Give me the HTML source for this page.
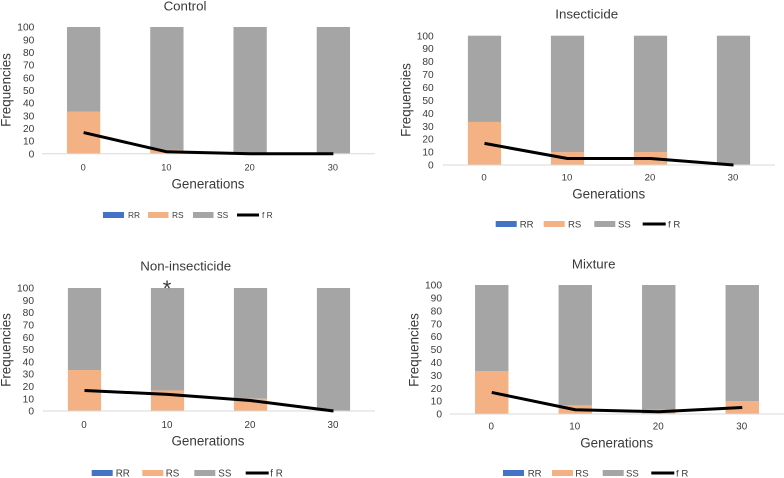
<!DOCTYPE html>
<html lang="en">
<head>
<meta charset="utf-8">
<title>Allele frequencies by generation</title>
<style>
html,body{margin:0;padding:0;background:#fff;width:784px;height:478px;overflow:hidden}
svg{display:block;filter:blur(0.35px)}
text{font-family:"Liberation Sans",sans-serif;fill:#3a3a3a}
</style>
</head>
<body>
<svg id="chart" xmlns="http://www.w3.org/2000/svg" width="784" height="478" viewBox="0 0 784 478"></svg>
<script>
const categories = ["0", "10", "20", "30"];
const yTickLabels = [0, 10, 20, 30, 40, 50, 60, 70, 80, 90, 100];
const panelTitles = ["Control", "Insecticide", "Non-insecticide", "Mixture"];
const seriesNames = ["RR", "RS", "SS", "f R"];

const rrControl = [0, 0, 0, 0];
const rsControl = [33.3, 3, 0, 0];
const ssControl = [66.7, 97, 100, 100];
const frControl = [16.7, 1.5, 0, 0];

const rrInsecticide = [0, 0, 0, 0];
const rsInsecticide = [33.3, 10, 10, 0];
const ssInsecticide = [66.7, 90, 90, 100];
const frInsecticide = [16.7, 5, 5, 0];

const rrNonInsecticide = [0, 0, 0, 0];
const rsNonInsecticide = [33.3, 16.7, 10, 0];
const ssNonInsecticide = [66.7, 83.3, 90, 100];
const frNonInsecticide = [16.7, 13.5, 8.5, 0];

const rrMixture = [0, 0, 0, 0];
const rsMixture = [33.3, 6.7, 3.3, 10];
const ssMixture = [66.7, 93.3, 96.7, 90];
const frMixture = [16.7, 3.3, 1.7, 5];

const panelValues = [
  {rr: rrControl, rs: rsControl, ss: ssControl, fr: frControl},
  {rr: rrInsecticide, rs: rsInsecticide, ss: ssInsecticide, fr: frInsecticide},
  {rr: rrNonInsecticide, rs: rsNonInsecticide, ss: ssNonInsecticide, fr: frNonInsecticide},
  {rr: rrMixture, rs: rsMixture, ss: ssMixture, fr: frMixture}
];

const layouts = [
  {x0:42, x1:375, top:27, base:153.7, titleX:185, titleY:6, genX:208, genY:184, xLabY:167, yTitleX:6, yTitleY:90, tickR:34.3, xFs:9.2,
   legY:215, legFs:8.4, sw:[103,148,193,237], swW:[21,20.5,20.5,22], legTx:[128,172,217,262]},
  {x0:443, x1:775, top:35.7, base:165, titleX:586.7, titleY:14, genX:608.7, genY:193.7, xLabY:177, yTitleX:406, yTitleY:100, tickR:433.7, xFs:9.6,
   legY:224, legFs:9.6, sw:[495.7,543.7,594.3,642.7], swW:[21,21,21,23], legTx:[519.7,568,618,668]},
  {x0:43, x1:375, top:288, base:411, titleX:185.7, titleY:266, genX:208, genY:441, xLabY:424.7, yTitleX:6, yTitleY:350, tickR:34, xFs:9.8,
   legY:473, legFs:9.8, sw:[91.7,142.3,194.3,245.7], swW:[21,21,21,23], legTx:[115.7,165.7,218.3,270.3]},
  {x0:450, x1:784, top:285, base:414, titleX:593.7, titleY:264, genX:616.7, genY:443, xLabY:426, yTitleX:413.7, yTitleY:350, tickR:442, xFs:9.8,
   legY:473, legFs:9.6, sw:[503,552,602.7,651.3], swW:[21,21,21,23], legTx:[527.7,575.3,626,676]}
];

const svgNS = "http://www.w3.org/2000/svg";
const root = document.getElementById("chart");
const colors = {rr: "#4472c4", rs: "#f4b183", ss: "#a5a5a5", fr: "#000000"};

function mk(tag, attrs, parent) {
  const el = document.createElementNS(svgNS, tag);
  for (const k in attrs) el.setAttribute(k, attrs[k]);
  parent.appendChild(el);
  return el;
}
function label(parent, str, attrs) {
  const t = mk("text", attrs, parent);
  t.textContent = str;
  return t;
}

panelValues.forEach(function (vals, p) {
  const L = layouts[p];
  const slug = panelTitles[p].toLowerCase();
  const g = mk("g", {}, root);
  
  

  const band = (L.x1 - L.x0) / categories.length;
  const xCenter = function (i) { return L.x0 + (i + 0.5) * band; };
  const yMax = yTickLabels[yTickLabels.length - 1];
  const yScale = function (v) { return L.base - (v / yMax) * (L.base - L.top); };
  const barW = band * 0.4;

  const title = label(g, panelTitles[p], {x: L.titleX, y: L.titleY + 4.6, "text-anchor": "middle", "font-size": 13.3});
  
  

  yTickLabels.forEach(function (v) {
    const t = label(g, String(v), {x: L.tickR, y: yScale(v) + 3.6, "text-anchor": "end", "font-size": 10.2});
    
    
  });

  categories.forEach(function (c, i) {
    const cx = xCenter(i);
    let running = 0;
    ["rr", "rs", "ss"].forEach(function (key) {
      const v = vals[key][i];
      if (v > 0) {
        const r = mk("rect", {
          x: cx - barW / 2,
          y: yScale(running + v),
          width: barW,
          height: yScale(running) - yScale(running + v),
          fill: colors[key]
        }, g);
        
        
      }
      running += v;
    });
    const t = label(g, c, {x: cx - 0.5, y: L.xLabY + 3.4, "text-anchor": "middle", "font-size": L.xFs});
    
    
  });

  const axis = mk("line", {x1: L.x0, x2: L.x1, y1: L.base, y2: L.base, stroke: "#d9d9d9", "stroke-width": 1}, g);
  
  

  const pts = vals.fr.map(function (v, i) { return xCenter(i) + "," + yScale(v); }).join(" ");
  const line = mk("polyline", {points: pts, fill: "none", stroke: colors.fr, "stroke-width": 3, "stroke-linejoin": "round"}, g);
  
  

  const xt = label(g, "Generations", {x: L.genX, y: L.genY + 4.6, "text-anchor": "middle", "font-size": 13.4});
  
  

  const yt = label(g, "Frequencies", {
    x: 0, y: 0, "text-anchor": "middle", "font-size": 13.4,
    transform: "translate(" + (L.yTitleX + 4.6) + "," + L.yTitleY + ") rotate(-90)"
  });
  
  

  seriesNames.forEach(function (name, i) {
    const isLine = i === 3;
    const key = ["rr", "rs", "ss", "fr"][i];
    const entry = mk("g", {}, g);
    
    
    if (isLine) {
      mk("line", {x1: L.sw[i], x2: L.sw[i] + L.swW[i], y1: L.legY, y2: L.legY, stroke: colors[key], "stroke-width": 3}, entry);
    } else {
      mk("rect", {x: L.sw[i], y: L.legY - 3, width: L.swW[i], height: 6, fill: colors[key]}, entry);
    }
    label(entry, name, {x: L.legTx[i], y: L.legY + L.legFs * 0.36, "font-size": L.legFs});
  });

  if (p === 2) {
    const star = label(g, "*", {x: xCenter(1) - 0.5, y: 296, "text-anchor": "middle", "font-size": 22});
    
    
  }
});
</script>
</body>
</html>
